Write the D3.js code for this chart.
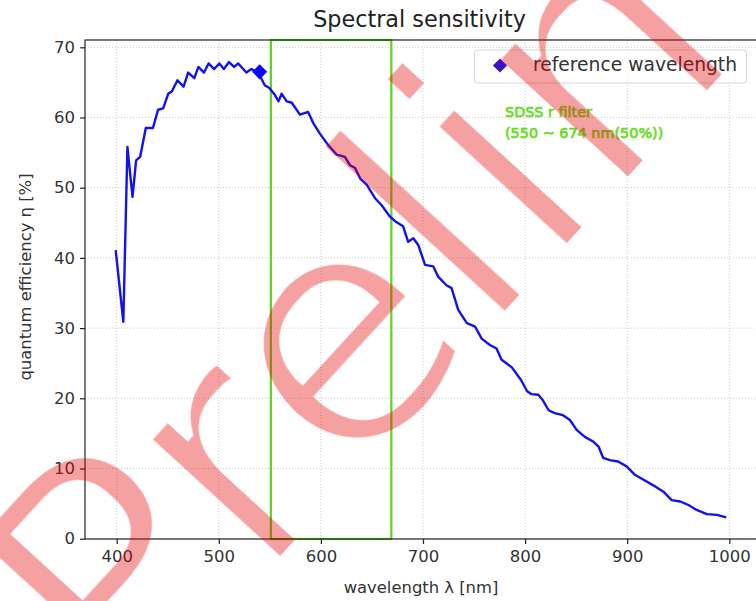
<!DOCTYPE html>
<html><head><meta charset="utf-8">
<script src="https://cdn.jsdelivr.net/npm/d3@7"></script>
<style>
html,body{margin:0;padding:0;background:#fff;}
text{font-family:"DejaVu Sans",sans-serif;}
</style></head>
<body>
<svg id="c" width="756" height="601">
  <defs>
    <filter id="thin" x="-10%" y="-10%" width="120%" height="120%">
      <feMorphology operator="erode" radius="4"/>
    </filter>
  </defs>
</svg>
<script>
const wavelengths = [399,406.5,410.5,415.5,419,423,428.5,435.5,440.5,445.5,450.5,454,459.5,465.5,470,476,480,485.5,490,495.5,500.5,505,510,515,519,527,532,539,545,549.5,555,558.5,561.5,566.5,571.5,579.5,587.5,592.5,599,607,615.5,623.5,628.5,633.5,638.5,645,653,659.5,667.5,673,680.5,685.5,690.5,695.5,702,710,715,723,728,734.5,743,751,757.5,765.5,772,777,787,796,802,806,813,817,823,829,837,844,850.5,858.5,867,872,876.5,883,891,899.5,907.5,916,925.5,935.5,943.5,952,960,968,978,988,997];
const efficiency = [41.1,30.9,55.8,48.7,53.9,54.4,58.5,58.5,61.1,61.3,63.4,63.7,65.3,64.4,66.4,65.6,67.2,66.4,67.7,66.9,67.7,66.9,67.9,67.2,67.7,66.4,66.9,66.3,64.6,64.2,63.2,62.3,63.4,62.3,62.1,60.4,60.8,59.2,57.7,56.1,54.7,54.4,53.2,52.8,51.3,50.4,48.5,47.5,45.9,45.2,44.5,42.3,42.8,41.8,39.0,38.8,37.3,36.1,35.7,32.6,30.7,30.2,28.5,27.6,27.1,25.5,24.4,22.6,21.0,20.6,20.5,19.8,18.3,17.9,17.6,16.9,15.5,14.5,13.8,13.1,11.5,11.2,11.0,10.3,9.1,8.4,7.6,6.7,5.5,5.3,4.8,4.1,3.5,3.4,3.05];
const refPoint = [540, 66.5];
const filterBand = [551, 669];
const xTicks = [400,500,600,700,800,900,1000];
const yTicks = [0,10,20,30,40,50,60,70];
const titleText = "Spectral sensitivity";
const xLabel = "wavelength λ [nm]";
const yLabel = "quantum efficiency η [%]";
const legendLabel = "reference wavelength";
const filterLines = ["SDSS r filter", "(550 ~ 674 nm(50%))"];
const watermark = "Preliminary";

const svg = d3.select("#c");
const L = 85, R = 762, T = 40, B = 539;
const x = d3.scaleLinear().domain([400,1000]).range([116.7,729.3]);
const y = d3.scaleLinear().domain([0,70]).range([538.7,47.3]);

// grid
const g = svg.append("g");
g.selectAll(".gx").data(xTicks).join("line")
  .attr("x1",d=>x(d)).attr("x2",d=>x(d)).attr("y1",T).attr("y2",B)
  .attr("stroke","#c8c8c8").attr("stroke-width",1).attr("stroke-dasharray","1,2");
g.selectAll(".gy").data(yTicks).join("line")
  .attr("x1",L).attr("x2",R).attr("y1",d=>y(d)).attr("y2",d=>y(d))
  .attr("stroke","#c8c8c8").attr("stroke-width",1).attr("stroke-dasharray","1,2");

// filter rectangle
svg.append("rect").attr("x",x(filterBand[0])).attr("y",T)
  .attr("width",x(filterBand[1])-x(filterBand[0])).attr("height",B-T)
  .attr("fill","none").attr("stroke","#5fd31f").attr("stroke-width",2.2);

// curve
const line = d3.line().x((d,i)=>x(wavelengths[i])).y(d=>y(d));
svg.append("path").attr("d",line(efficiency)).attr("fill","none")
  .attr("stroke","#1212ee").attr("stroke-width",2.4).attr("stroke-linejoin","round");

// ref marker
svg.append("path").attr("d",d3.symbol(d3.symbolSquare,115)())
  .attr("transform",`translate(${x(refPoint[0])},${y(refPoint[1])}) rotate(45)`)
  .attr("fill","#0a0af5");

// frame
svg.append("rect").attr("x",L).attr("y",T).attr("width",R-L).attr("height",B-T)
  .attr("fill","none").attr("stroke","#222").attr("stroke-width",1.2);

// axes
const xa = svg.append("g").attr("transform",`translate(0,${B})`)
  .call(d3.axisBottom(x).tickValues(xTicks).tickSize(5).tickPadding(6).tickFormat(d3.format("d")));
const ya = svg.append("g").attr("transform",`translate(${L},0)`)
  .call(d3.axisLeft(y).tickValues(yTicks).tickSize(5).tickPadding(5).tickFormat(d3.format("d")));
[xa,ya].forEach(a=>{
  a.select(".domain").remove();
  a.selectAll("line").attr("stroke","#222").attr("stroke-width",1.2);
  a.selectAll("text").attr("font-size",16.5).attr("fill","#333").attr("font-family","DejaVu Sans");
});

// title & labels
svg.append("text").attr("x",419.5).attr("y",27).attr("text-anchor","middle")
  .attr("font-size",22.3).attr("fill","#222").text(titleText);
svg.append("text").attr("x",421).attr("y",593).attr("text-anchor","middle")
  .attr("font-size",16.4).attr("fill","#333").text(xLabel);
svg.append("text").attr("transform","translate(31,277) rotate(-90)").attr("text-anchor","middle")
  .attr("font-size",16.4).attr("fill","#333").text(yLabel);

// legend
svg.append("rect").attr("x",474.5).attr("y",50).attr("width",272).attr("height",33).attr("rx",3)
  .attr("fill","rgba(255,255,255,0.8)").attr("stroke","#d6d6d6").attr("stroke-width",1);
svg.append("path").attr("d",d3.symbol(d3.symbolSquare,100)())
  .attr("transform","translate(500,65.5) rotate(45)").attr("fill","#3a12c4");
svg.append("text").attr("x",533).attr("y",71).attr("font-size",18.7).attr("fill","#333").text(legendLabel);

// filter text
const ft = svg.append("text").attr("font-size",14.4).attr("fill","#66dd22")
  .attr("stroke","#66dd22").attr("stroke-width",0.7);
ft.selectAll("tspan").data(filterLines).join("tspan").attr("x",505).attr("y",(d,i)=>117+i*21).text(d=>d);

// watermark
svg.append("text").attr("transform","translate(129.6,726.1) rotate(-47.5)")
  .attr("font-size",330).attr("fill","rgba(230,0,0,0.37)").attr("filter","url(#thin)").text(watermark);
</script>
</body></html>
